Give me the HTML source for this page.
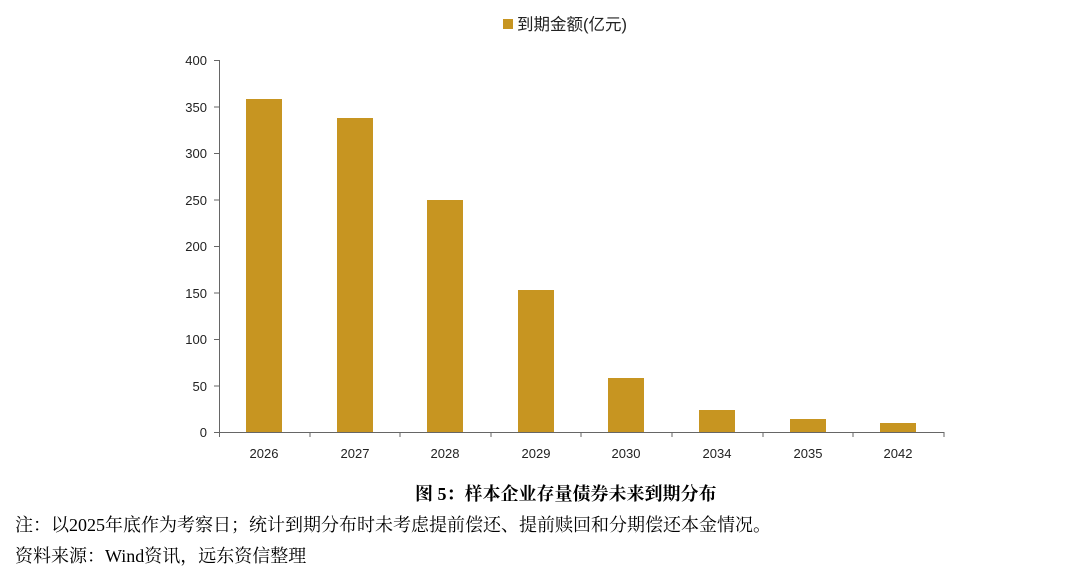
<!DOCTYPE html>
<html><head><meta charset="utf-8"><style>
body{margin:0;width:1080px;height:579px;background:#fff;overflow:hidden}
svg text{font-family:"Liberation Sans","Noto Sans CJK SC",sans-serif}
.t{font-family:"Liberation Serif","Noto Serif CJK SC",serif;fill:#000}
</style></head><body>
<svg width="1080" height="579" xmlns="http://www.w3.org/2000/svg">
<rect x="503" y="19" width="10" height="10" fill="#C79521"/>
<text x="517" y="30" font-size="16.5" fill="#222">到期金额(亿元)</text>
<g font-size="13" fill="#222" text-anchor="end">
<text x="207" y="437">0</text><text x="207" y="391">50</text><text x="207" y="344">100</text>
<text x="207" y="298">150</text><text x="207" y="251">200</text><text x="207" y="205">250</text>
<text x="207" y="158">300</text><text x="207" y="112">350</text><text x="207" y="65">400</text>
</g>
<g stroke="#666" stroke-width="1">
<line x1="219.5" y1="60" x2="219.5" y2="432"/>
<line x1="219" y1="432.5" x2="944" y2="432.5"/>
<line x1="214" y1="432.5" x2="219" y2="432.5"/><line x1="214" y1="386" x2="219" y2="386"/>
<line x1="214" y1="339.5" x2="219" y2="339.5"/><line x1="214" y1="293" x2="219" y2="293"/>
<line x1="214" y1="246.5" x2="219" y2="246.5"/><line x1="214" y1="200" x2="219" y2="200"/>
<line x1="214" y1="153.5" x2="219" y2="153.5"/><line x1="214" y1="107" x2="219" y2="107"/>
<line x1="214" y1="60.5" x2="219" y2="60.5"/>
<line x1="310" y1="432" x2="310" y2="437"/><line x1="400" y1="432" x2="400" y2="437"/>
<line x1="491" y1="432" x2="491" y2="437"/><line x1="581" y1="432" x2="581" y2="437"/>
<line x1="672" y1="432" x2="672" y2="437"/><line x1="763" y1="432" x2="763" y2="437"/>
<line x1="853" y1="432" x2="853" y2="437"/><line x1="944" y1="432" x2="944" y2="437"/>
<line x1="219.5" y1="432" x2="219.5" y2="437"/>
</g>
<g fill="#C79521">
<rect x="246" y="99" width="36" height="333"/>
<rect x="337" y="118" width="36" height="314"/>
<rect x="427" y="200" width="36" height="232"/>
<rect x="518" y="290" width="36" height="142"/>
<rect x="608" y="378" width="36" height="54"/>
<rect x="699" y="410" width="36" height="22"/>
<rect x="790" y="419" width="36" height="13"/>
<rect x="880" y="423" width="36" height="9"/>
</g>
<g font-size="13" fill="#222" text-anchor="middle">
<text x="264" y="458">2026</text><text x="355" y="458">2027</text><text x="445" y="458">2028</text>
<text x="536" y="458">2029</text><text x="626" y="458">2030</text><text x="717" y="458">2034</text>
<text x="808" y="458">2035</text><text x="898" y="458">2042</text>
</g>
<text class="t" x="415" y="500" font-size="18" font-weight="bold">图 5：样本企业存量债券未来到期分布</text>
<text class="t" x="15" y="531" font-size="18">注：以2025年底作为考察日；统计到期分布时未考虑提前偿还、提前赎回和分期偿还本金情况。</text>
<text class="t" x="15" y="562" font-size="18">资料来源：Wind资讯，远东资信整理</text>
</svg>
</body></html>
